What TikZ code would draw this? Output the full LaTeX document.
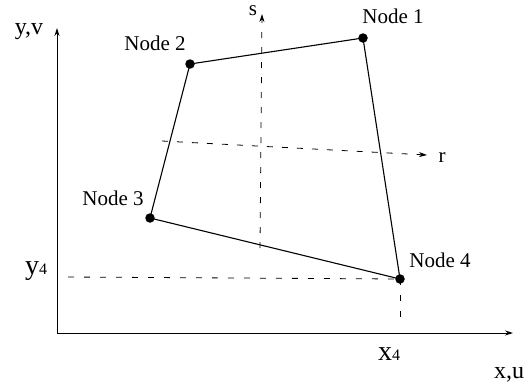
\documentclass[tikz,border=0pt]{standalone}
\usepackage{fontspec}
\setmainfont{Liberation Serif}
\usetikzlibrary{arrows.meta}
\begin{document}
\begin{tikzpicture}[x=1pt,y=-1pt,
  axis/.style={line width=0.9pt,-{Stealth[length=8pt,width=5pt]}},
  dashaxis/.style={line width=0.8pt,dash pattern=on 6pt off 9pt,-{Stealth[length=8pt,width=5pt]}},
  guide/.style={line width=0.8pt,dash pattern=on 6pt off 10pt},
  edge/.style={line width=1.1pt},
  dot/.style={circle,fill=black,inner sep=0pt,minimum size=9.5pt},
  lbl/.style={inner sep=0pt,font=\fontsize{21}{24}\selectfont},
  axl/.style={inner sep=0pt,font=\fontsize{24}{28}\selectfont},
  subl/.style={inner sep=0pt,font=\fontsize{28}{32}\selectfont}]
\useasboundingbox (0,0) rectangle (531,386);
% axes
\coordinate (O) at (57,333);
\coordinate (ytip) at (57,28);
\coordinate (xtip) at (513,333);
\draw[axis] (O) -- (ytip);
\draw[axis] (O) -- (xtip);
% local axes
\coordinate (sb) at (260,248);
\coordinate (st) at (262,14);
\coordinate (rb) at (162,141);
\coordinate (rt) at (427,155);
\draw[dashaxis] (sb) -- (st);
\draw[dashaxis] (rb) -- (rt);
% nodes
\node[dot] (n1) at (363,38) {};
\node[dot] (n2) at (190,64) {};
\node[dot] (n3) at (150,218) {};
\node[dot] (n4) at (400,279) {};
% guides
\coordinate (y4s) at (68,277);
\coordinate (x4e) at (400,323);
\draw[guide] (y4s) -- (n4.center);
\draw[guide] (n4.center) -- (x4e);
% element
\draw[edge] (n1.center) -- (n2.center) -- (n3.center) -- (n4.center) -- cycle;
% labels
\node[lbl] (l1) at (393,16) {Node 1};
\node[lbl] (l2) at (155,43) {Node 2};
\node[lbl] (l3) at (113,198) {Node 3};
\node[lbl] (l4) at (440,260) {Node 4};
\node[axl] (lyv) at (29,32) {y,v};
\node[axl] (lxu) at (509,375) {x,u};
\node[lbl] (ls) at (253,11) {s};
\node[lbl] (lr) at (442,158) {r};
\node[subl] (ly4) at (36,271) {y{\fontsize{16}{18}\selectfont 4}};
\node[subl] (lx4) at (389,354) {x{\fontsize{16}{18}\selectfont 4}};
\end{tikzpicture}
\end{document}
